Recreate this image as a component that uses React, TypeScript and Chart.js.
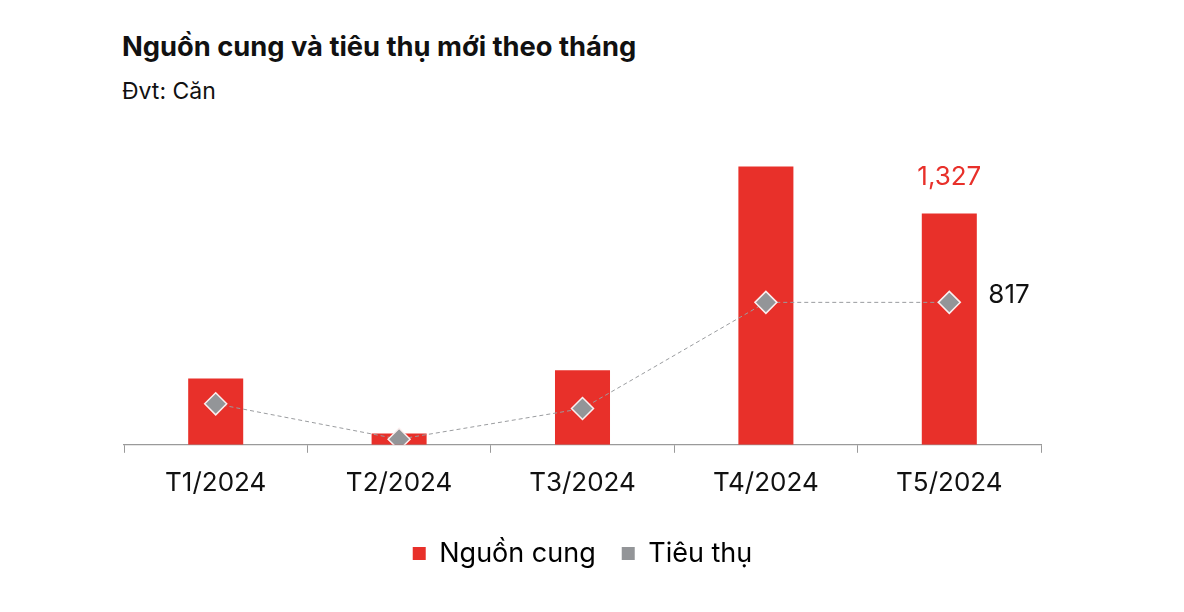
import React, { useEffect, useRef } from "react";
import Chart from "chart.js/auto";

const months = ["T1/2024", "T2/2024", "T3/2024", "T4/2024", "T5/2024"];
const supply = [380, 65, 427, 1596, 1327];
const sales = [235, 32, 208, 817, 817];
const seriesNames = ["Nguồn cung", "Tiêu thụ"];

const RED = "#E8302A";
const GREY = "#939598";
const FONT = "Inter, 'Noto Sans', sans-serif";

const lastValueLabels = {
  id: "lastValueLabels",
  afterDatasetsDraw(chart: Chart) {
    const ctx = chart.ctx;
    const last = months.length - 1;
    ctx.save();
    ctx.font = `400 26px ${FONT}`;
    ctx.textBaseline = "middle";

    const bar = chart.getDatasetMeta(0).data[last] as any;
    ctx.fillStyle = RED;
    ctx.textAlign = "center";
    ctx.fillText(supply[last].toLocaleString("en-US"), bar.x, bar.y - 36);

    const pt = chart.getDatasetMeta(1).data[last] as any;
    ctx.fillStyle = "#111111";
    ctx.textAlign = "left";
    ctx.fillText(sales[last].toLocaleString("en-US"), pt.x + 39, pt.y - 7);
    ctx.restore();
  },
};

const App: React.FC = () => {
  const chartRef = useRef<HTMLCanvasElement>(null);
  const chartInstance = useRef<Chart>();

  useEffect(() => {
    document.body.style.margin = "0";
    if (chartRef.current) {
      if (chartInstance.current) {
        chartInstance.current.destroy();
      }
      const ctx = chartRef.current.getContext("2d");
      if (ctx) {
        chartInstance.current = new Chart(ctx, {
          type: "bar",
          data: {
            labels: months,
            datasets: [
              {
                type: "bar",
                label: seriesNames[0],
                data: supply,
                backgroundColor: RED,
                categoryPercentage: 1,
                barPercentage: 0.3,
                order: 1,
              },
              {
                type: "line",
                label: seriesNames[1],
                data: sales,
                borderColor: "#9A9C9F",
                borderWidth: 1,
                borderDash: [4, 3],
                pointStyle: "rectRot",
                pointRadius: 11,
                pointBackgroundColor: GREY,
                pointBorderColor: "#FBEFEF",
                pointBorderWidth: 1.5,
                tension: 0,
                order: 0,
              } as any,
            ],
          },
          options: {
            animation: false,
            responsive: false,
            layout: { padding: { left: 124, right: 143, top: 131, bottom: 35 } },
            scales: {
              x: {
                grid: {
                  offset: true,
                  drawOnChartArea: false,
                  drawTicks: true,
                  tickLength: 8,
                  color: "#9A9A9A",
                },
                border: { color: "#9A9A9A", width: 1.2 },
                ticks: {
                  color: "#111111",
                  font: { family: FONT, size: 26 },
                  padding: 15,
                },
              },
              y: {
                display: false,
                min: 0,
                max: 1800,
              },
            },
            plugins: {
              legend: {
                position: "bottom",
                labels: {
                  boxWidth: 13,
                  boxHeight: 13,
                  padding: 26,
                  color: "#111111",
                  font: { family: FONT, size: 27 },
                  generateLabels: () =>
                    seriesNames.map((name, i) => ({
                      text: name,
                      fillStyle: i === 0 ? RED : GREY,
                      strokeStyle: i === 0 ? RED : GREY,
                      lineWidth: 0,
                      datasetIndex: i,
                      hidden: false,
                    })),
                },
              },
              tooltip: { enabled: false },
            },
          },
          plugins: [lastValueLabels],
        });
      }
    }
    return () => {
      if (chartInstance.current) {
        chartInstance.current.destroy();
      }
    };
  }, []);

  return (
    <div style={{ position: "relative", width: 1184, height: 612, background: "#fff" }}>
      <div
        style={{
          position: "absolute",
          left: 122,
          top: 30,
          fontFamily: FONT,
          fontWeight: 700,
          fontSize: 27.3,
          lineHeight: "34px",
          color: "#111",
        }}
      >
        Nguồn cung và tiêu thụ mới theo tháng
      </div>
      <div
        style={{
          position: "absolute",
          left: 122,
          top: 77,
          fontFamily: FONT,
          fontSize: 23,
          lineHeight: "28px",
          color: "#111",
        }}
      >
        Đvt: Căn
      </div>
      <canvas
        ref={chartRef}
        width={1184}
        height={612}
        style={{ position: "absolute", left: 0, top: 0 }}
      />
    </div>
  );
};

export default App;
